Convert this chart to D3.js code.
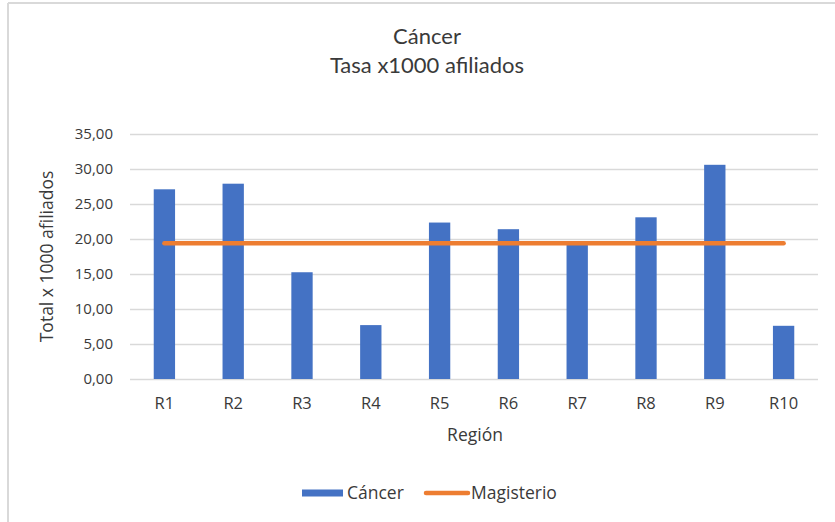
<!DOCTYPE html>
<html>
<head>
<meta charset="utf-8">
<script src="https://cdn.jsdelivr.net/npm/d3@7"></script>
<style>
  body { margin: 0; background: #fff; }
  svg { display: block; }
</style>
</head>
<body>
<div id="chart"></div>
<script>
const regions = ["R1", "R2", "R3", "R4", "R5", "R6", "R7", "R8", "R9", "R10"];
const cancer = [27.1, 27.9, 15.25, 7.7, 22.35, 21.4, 19.3, 23.1, 30.6, 7.6];
const magisterio = [19.4, 19.4, 19.4, 19.4, 19.4, 19.4, 19.4, 19.4, 19.4, 19.4];
const yTicks = [0, 5, 10, 15, 20, 25, 30, 35];

const W = 835, H = 522;
const plot = { left: 130, right: 818, top: 134, bottom: 379 };
const textColor = "#3a3a3a";

const svg = d3.select("#chart").append("svg")
    .attr("width", W)
    .attr("height", H);

svg.append("rect").attr("width", W).attr("height", H).attr("fill", "#fff");

// chart frame (only top and left edges are visible)
svg.append("line")
    .attr("x1", 8).attr("x2", W).attr("y1", 3).attr("y2", 3)
    .attr("stroke", "#d9d9d9").attr("stroke-width", 2);
svg.append("line")
    .attr("x1", 8).attr("x2", 8).attr("y1", 3).attr("y2", H)
    .attr("stroke", "#d9d9d9").attr("stroke-width", 2);

const x = d3.scaleBand()
    .domain(regions)
    .range([plot.left, plot.right])
    .paddingInner(0.69)
    .paddingOuter(0.345);

const y = d3.scaleLinear()
    .domain([0, 35])
    .range([plot.bottom, plot.top]);

// gridlines
svg.append("g")
    .selectAll("line")
    .data(yTicks)
    .enter().append("line")
    .attr("x1", plot.left).attr("x2", plot.right)
    .attr("y1", d => Math.round(y(d)) + 0.5)
    .attr("y2", d => Math.round(y(d)) + 0.5)
    .attr("stroke", "#d9d9d9")
    .attr("stroke-width", 1.3);

// y tick labels
const fmt = d => d.toFixed(2).replace(".", ",");
const yAxis = svg.append("g")
    .attr("transform", `translate(${plot.left - 17},0)`)
    .call(d3.axisLeft(y).tickValues(yTicks).tickFormat(fmt).tickSize(0).tickPadding(0));
yAxis.select(".domain").remove();
yAxis.selectAll("text")
    .attr("font-family", "'Open Sans', sans-serif")
    .attr("font-size", 15)
    .attr("fill", textColor);

// x tick labels
const xAxis = svg.append("g")
    .attr("transform", `translate(0,${plot.bottom + 18})`)
    .call(d3.axisBottom(x).tickSize(0).tickPadding(0));
xAxis.select(".domain").remove();
xAxis.selectAll("text")
    .attr("font-family", "'Open Sans', sans-serif")
    .attr("font-size", 16.5)
    .attr("fill", textColor);

// bars
svg.append("g")
    .selectAll("rect")
    .data(cancer)
    .enter().append("rect")
    .attr("x", (d, i) => x(regions[i]))
    .attr("y", d => y(d))
    .attr("width", x.bandwidth())
    .attr("height", d => y(0) - y(d))
    .attr("fill", "#4472c4");

// magisterio line
const line = d3.line()
    .x((d, i) => x(regions[i]) + x.bandwidth() / 2)
    .y(d => y(d));
svg.append("path")
    .datum(magisterio)
    .attr("d", line)
    .attr("fill", "none")
    .attr("stroke", "#ed7d31")
    .attr("stroke-width", 4.5)
    .attr("stroke-linecap", "round");

// titles
svg.append("text")
    .attr("x", 427).attr("y", 44)
    .attr("text-anchor", "middle")
    .attr("font-family", "Lato, sans-serif")
    .attr("font-size", 22)
    .attr("fill", textColor)
    .text("Cáncer");
svg.append("text")
    .attr("x", 427).attr("y", 73)
    .attr("text-anchor", "middle")
    .attr("font-family", "Lato, sans-serif")
    .attr("font-size", 22)
    .attr("fill", textColor)
    .text("Tasa x1000 afiliados");

// axis titles
svg.append("text")
    .attr("transform", `translate(53,${(plot.top + plot.bottom) / 2}) rotate(-90)`)
    .attr("text-anchor", "middle")
    .attr("font-family", "'Open Sans', sans-serif")
    .attr("font-size", 17.5)
    .attr("fill", textColor)
    .text("Total x 1000 afiliados");
svg.append("text")
    .attr("x", 475).attr("y", 441)
    .attr("text-anchor", "middle")
    .attr("font-family", "'Open Sans', sans-serif")
    .attr("font-size", 17.5)
    .attr("fill", textColor)
    .text("Región");

// legend
const legend = svg.append("g").attr("transform", "translate(0,493)");
legend.append("rect")
    .attr("x", 302).attr("y", -3.5)
    .attr("width", 41).attr("height", 7)
    .attr("fill", "#4472c4");
legend.append("text")
    .attr("x", 347).attr("y", 0).attr("dy", "0.35em")
    .attr("font-family", "'Open Sans', sans-serif")
    .attr("font-size", 17.5)
    .attr("fill", textColor)
    .text("Cáncer");
legend.append("line")
    .attr("x1", 426).attr("x2", 468).attr("y1", 0).attr("y2", 0)
    .attr("stroke", "#ed7d31")
    .attr("stroke-width", 4.5)
    .attr("stroke-linecap", "round");
legend.append("text")
    .attr("x", 471).attr("y", 0).attr("dy", "0.35em")
    .attr("font-family", "'Open Sans', sans-serif")
    .attr("font-size", 17.5)
    .attr("fill", textColor)
    .text("Magisterio");
</script>
</body>
</html>
